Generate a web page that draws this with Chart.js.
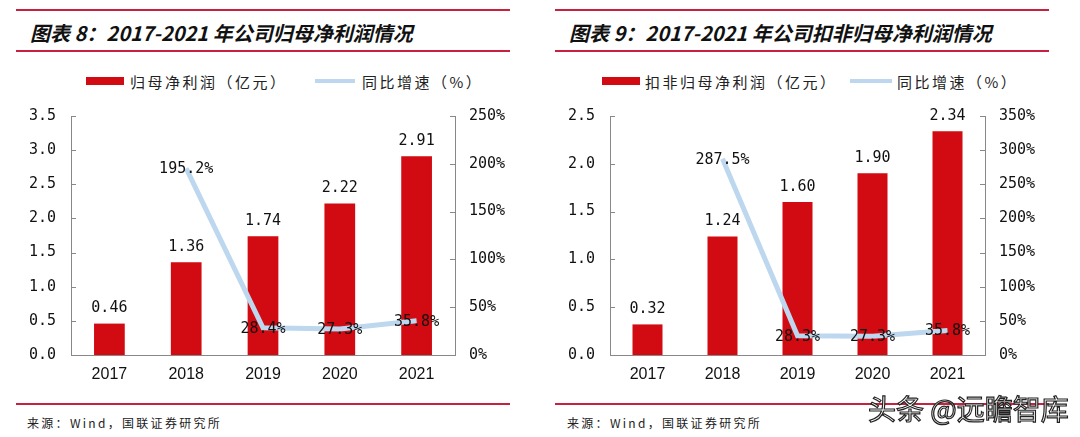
<!DOCTYPE html>
<html>
<head>
<meta charset="utf-8">
<script src="https://cdn.jsdelivr.net/npm/chart.js@4.4.0/dist/chart.umd.min.js"></script>
<style>
  body { margin: 0; width: 1080px; height: 437px; background: #fff; position: relative; overflow: hidden; font-family: "Noto Sans CJK SC", sans-serif; }
  .rule { position: absolute; height: 2px; background: #c8203f; }
  .title { position: absolute; top: 18px; font-size: 20px; font-weight: bold; font-style: italic; color: #111; white-space: nowrap; }
  .legend { position: absolute; top: 71px; font-size: 15px; letter-spacing: 2.5px; color: #222; white-space: nowrap; }
  .swatch-bar { position: absolute; height: 8px; background: #d20a11; }
  .swatch-line { position: absolute; height: 4px; background: #bdd7ee; }
  .source { position: absolute; top: 414px; font-size: 12px; letter-spacing: 2.3px; color: #222; white-space: nowrap; }
  canvas { position: absolute; top: 92px; }
  .mark { position: absolute; left: 868px; top: 388px; font-size: 28px; color: #fff; -webkit-text-stroke: 1.2px #222; white-space: nowrap; }
</style>
</head>
<body>
<div class="rule" style="left:16px;width:494px;top:9px"></div>
<div class="rule" style="left:16px;width:494px;top:50px"></div>
<div class="rule" style="left:16px;width:494px;top:403px"></div>
<div class="rule" style="left:555px;width:494px;top:9px"></div>
<div class="rule" style="left:555px;width:494px;top:50px"></div>
<div class="rule" style="left:555px;width:494px;top:403px"></div>

<div class="title" style="left:30px">图表 8：2017-2021 年公司归母净利润情况</div>
<div class="title" style="left:569px">图表 9：2017-2021 年公司扣非归母净利润情况</div>

<div class="swatch-bar" style="left:86px;top:77px;width:38px"></div>
<div class="legend" style="left:130px">归母净利润（亿元）</div>
<div class="swatch-line" style="left:315px;top:79px;width:40px"></div>
<div class="legend" style="left:362px">同比增速（%）</div>

<div class="swatch-bar" style="left:602px;top:77px;width:38px"></div>
<div class="legend" style="left:645px">扣非归母净利润（亿元）</div>
<div class="swatch-line" style="left:850px;top:79px;width:42px"></div>
<div class="legend" style="left:897px">同比增速（%）</div>

<canvas id="leftChart" width="540" height="300" style="left:0"></canvas>
<canvas id="rightChart" width="540" height="300" style="left:540px"></canvas>

<div class="source" style="left:27px">来源：Wind，国联证券研究所</div>
<div class="source" style="left:567px">来源：Wind，国联证券研究所</div>
<div class="mark">头条 @远瞻智库</div>

<script>
// data
var years = ['2017', '2018', '2019', '2020', '2021'];
var netProfit = [0.46, 1.36, 1.74, 2.22, 2.91];
var netProfitGrowth = [null, 195.2, 28.4, 27.3, 35.8];
var deductedProfit = [0.32, 1.24, 1.60, 1.90, 2.34];
var deductedGrowth = [null, 287.5, 28.3, 27.3, 35.8];

var leftAxisMax = [3.5, 2.5];
var rightAxisMax = [250, 350];

var monoFont = '"DejaVu Sans Mono", monospace';

// value labels + inside tick marks
var labelPlugin = {
  id: 'labels',
  afterDatasetsDraw: function(chart) {
    var ctx = chart.ctx;
    ctx.save();
    ctx.font = '15px ' + monoFont;
    ctx.fillStyle = '#111';
    ctx.textAlign = 'center';
    ctx.textBaseline = 'middle';
    chart.data.datasets.forEach(function(ds, i) {
      var meta = chart.getDatasetMeta(i);
      meta.data.forEach(function(el, j) {
        var v = ds.data[j];
        if (v === null) return;
        if (ds.type === 'bar') {
          ctx.fillText(v.toFixed(2), el.x, el.y - 15);
        } else {
          ctx.fillText(v.toFixed(1) + '%', el.x, el.y + 1);
        }
      });
    });
    // small ticks pointing inward
    ctx.strokeStyle = '#888';
    ctx.lineWidth = 1;
    ['y', 'y1'].forEach(function(id) {
      var s = chart.scales[id];
      s.ticks.forEach(function(t) {
        var py = Math.round(s.getPixelForValue(t.value)) + 0.5;
        ctx.beginPath();
        if (id === 'y') {
          ctx.moveTo(s.right, py); ctx.lineTo(s.right + 5, py);
        } else {
          ctx.moveTo(s.left - 5, py); ctx.lineTo(s.left, py);
        }
        ctx.stroke();
      });
    });
    ctx.restore();
  }
};

function makeChart(id, bars, growth, yMax, y1Max, leftW, rightW, topPad) {
  var ctx = document.getElementById(id).getContext('2d');
  return new Chart(ctx, {
    type: 'bar',
    data: {
      labels: years,
      datasets: [{
        type: 'line',
        data: growth,
        yAxisID: 'y1',
        borderColor: '#bdd7ee',
        borderWidth: 5,
        pointRadius: 0,
        tension: 0,
        order: 0
      }, {
        type: 'bar',
        data: bars,
        yAxisID: 'y',
        backgroundColor: '#d20a11',
        barPercentage: 0.8,
        categoryPercentage: 0.5,
        order: 1
      }]
    },
    options: {
      responsive: false,
      animation: false,
      devicePixelRatio: 1,
      layout: { padding: { top: topPad, left: 0, right: 0, bottom: 0 } },
      plugins: { legend: { display: false }, tooltip: { enabled: false } },
      scales: {
        x: {
          grid: { display: false, drawTicks: false },
          border: { color: '#888' },
          ticks: { color: '#111', font: { family: '"Liberation Sans", sans-serif', size: 16 }, padding: 10 },
          afterFit: function(s) { s.height = 37; }
        },
        y: {
          position: 'left',
          min: 0, max: yMax,
          grid: { display: false, drawTicks: false },
          border: { color: '#888' },
          ticks: { stepSize: 0.5, color: '#111', padding: 15,
                   font: { family: monoFont, size: 15 },
                   callback: function(v) { return v.toFixed(1); } },
          afterFit: function(s) { s.width = leftW; }
        },
        y1: {
          position: 'right',
          min: 0, max: y1Max,
          grid: { display: false, drawTicks: false },
          border: { color: '#888' },
          ticks: { stepSize: 50, color: '#111', padding: 14,
                   font: { family: monoFont, size: 15 },
                   callback: function(v) { return v + '%'; } },
          afterFit: function(s) { s.width = rightW; }
        }
      }
    },
    plugins: [labelPlugin]
  });
}

makeChart('leftChart', netProfit, netProfitGrowth, leftAxisMax[0], rightAxisMax[0], 71, 85, 10);
makeChart('rightChart', deductedProfit, deductedGrowth, leftAxisMax[1], rightAxisMax[1], 70, 95, 21);
</script>
</body>
</html>
